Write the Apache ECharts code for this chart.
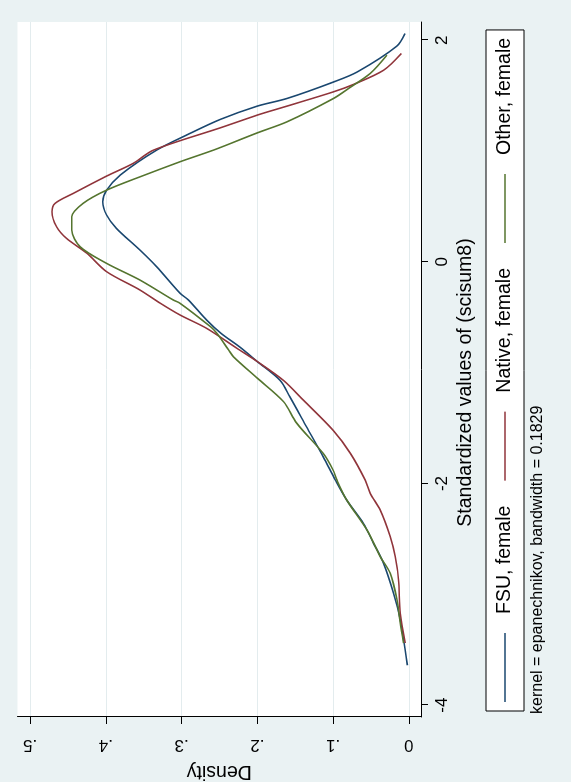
<!DOCTYPE html>
<html>
<head>
<meta charset="UTF-8">
<title>kdensity scisum8</title>
<script src="https://cdn.jsdelivr.net/npm/echarts@6/dist/echarts.min.js"></script>
<style>
html,body{margin:0;padding:0;width:571px;height:782px;overflow:hidden;background:#eaf2f3;}
/* drawn landscape like the Stata graph, then turned a quarter turn */
#box{position:absolute;left:0;top:0;width:782px;height:571px;transform-origin:0 0;transform:translate(0,782px) rotate(-90deg);}
</style>
</head>
<body>

<div id="box"></div>

<script type="text/javascript">

var seriesNames=['FSU, female','Native, female','Other, female'];
var seriesColors=['#1a476f','#90353b','#55752f'];
var xTicks=[-4,-2,0,2];
var densityTicks=[0,0.1,0.2,0.3,0.4,0.5];
var noteText='kernel = epanechnikov, bandwidth = 0.1829';

//FSU, female
var fsuX=[-3.64,-3.23,-2.99,-2.72,-2.54,-2.36,-2.15,-1.97,-1.76,-1.49,-1.22,-1.07,-0.90,-0.77,-0.645,-0.525,-0.344,-0.284,-0.044,0.106,0.302,0.422,0.542,0.647,0.783,1.008,1.152,1.285,1.405,1.474,1.624,1.714,1.946,2.06];
var fsuDensity=[0.002,0.0114,0.0202,0.0334,0.0466,0.060,0.082,0.097,0.113,0.135,0.157,0.170,0.200,0.223,0.248,0.267,0.291,0.302,0.333,0.355,0.386,0.399,0.404,0.399,0.381,0.333,0.291,0.249,0.200,0.161,0.099,0.068,0.016,0.005];

//Native, female
var nativeX=[-3.44,-3.17,-2.87,-2.66,-2.48,-2.24,-2.09,-1.97,-1.73,-1.52,-1.25,-1.07,-0.90,-0.78,-0.60,-0.48,-0.374,-0.254,-0.089,0.077,0.212,0.316,0.452,0.527,0.618,0.774,0.888,1.008,1.209,1.324,1.405,1.534,1.601,1.729,1.88];
var nativeDensity=[0.0048,0.0114,0.0136,0.018,0.0246,0.0378,0.051,0.0576,0.077,0.100,0.139,0.1655,0.200,0.227,0.267,0.302,0.328,0.355,0.399,0.425,0.452,0.465,0.471,0.467,0.443,0.399,0.364,0.337,0.249,0.200,0.161,0.0995,0.073,0.0334,0.010];

//Other, female
var otherX=[-3.44,-3.26,-3.05,-2.81,-2.66,-2.42,-2.15,-1.97,-1.88,-1.73,-1.456,-1.261,-1.05,-0.856,-0.795,-0.645,-0.585,-0.374,-0.344,-0.164,-0.014,0.136,0.287,0.407,0.527,0.647,0.767,0.903,1.008,1.164,1.263,1.474,1.564,1.70,1.865];
var otherDensity=[0.007,0.0114,0.0157,0.0246,0.0378,0.0553,0.082,0.095,0.100,0.113,0.148,0.1655,0.200,0.2316,0.238,0.2535,0.262,0.302,0.311,0.355,0.399,0.434,0.445,0.445,0.430,0.399,0.355,0.302,0.258,0.200,0.161,0.0995,0.0797,0.051,0.029];

function pairs(xs,ds){
  var out=[];
  for(var i=0;i<xs.length;i++){ out.push([xs[i],ds[i]]); }
  return out;
}
var allX=[fsuX,nativeX,otherX];
var allD=[fsuDensity,nativeDensity,otherDensity];

var font='"Liberation Sans", Arial, sans-serif';

var series=[];
for(var k=0;k<3;k++){
  series.push({
    name:seriesNames[k],
    type:'line',
    data:pairs(allX[k],allD[k]),
    showSymbol:false,
    smooth:0.3,
    lineStyle:{color:seriesColors[k],width:1.6},
    itemStyle:{color:seriesColors[k]}
  });
}

var mychart=echarts.init(document.getElementById('box'),null,{width:782,height:571});

var option={
  animation:false,
  backgroundColor:'#eaf2f3',
  textStyle:{fontFamily:font,color:'#000'},
  //note under the legend
  title:{
    text:noteText,
    left:68,
    top:530,
    padding:0,
    textStyle:{fontFamily:font,fontSize:16,fontWeight:'normal',color:'#000'}
  },
  legend:{
    data:seriesNames,
    left:71,
    top:486,
    orient:'horizontal',
    icon:'rect',
    itemWidth:69,
    itemHeight:1.6,
    itemGap:25,
    padding:[9,8,9,9],
    backgroundColor:'#fff',
    borderColor:'#000',
    borderWidth:1,
    borderRadius:0,
    selectedMode:false,
    textStyle:{fontFamily:font,fontSize:19.5,color:'#000',padding:[0,0,0,14]}
  },
  grid:{
    left:65,right:22,top:17.5,bottom:150,
    containLabel:false,
    outerBoundsMode:'none',
    show:true,backgroundColor:'#fff',borderWidth:0
  },
  //standardized values
  xAxis:{
    type:'value',
    min:-4.107,max:2.164,
    name:'Standardized values of (scisum8)',
    nameLocation:'middle',
    nameGap:34,
    nameTextStyle:{fontFamily:font,fontSize:19.5,color:'#000',padding:[0,26,0,0]},
    axisLine:{show:true,onZero:false,lineStyle:{color:'#000',width:1}},
    axisTick:{show:true,length:7,customValues:xTicks,lineStyle:{color:'#000'}},
    axisLabel:{customValues:xTicks,margin:13,fontSize:17,fontFamily:font,color:'#000'},
    splitLine:{show:false}
  },
  //density
  yAxis:{
    type:'value',
    min:-0.016,max:0.5166,
    name:'Density',
    nameLocation:'middle',
    nameGap:34,
    nameTextStyle:{fontFamily:font,fontSize:19.5,color:'#000'},
    axisLine:{show:true,onZero:false,lineStyle:{color:'#000',width:1}},
    axisTick:{show:true,length:7,customValues:densityTicks,lineStyle:{color:'#000'}},
    axisLabel:{
      customValues:densityTicks,rotate:90,margin:19,fontSize:17,fontFamily:font,color:'#000',
      formatter:function(v){ return v===0?'0':String(Math.round(v*10)/10).replace(/^0\./,'.'); }
    },
    splitLine:{show:true,lineStyle:{color:'#e3ecee',width:1}}
  },
  series:series
};

mychart.setOption(option);
</script>
</body>
</html>
